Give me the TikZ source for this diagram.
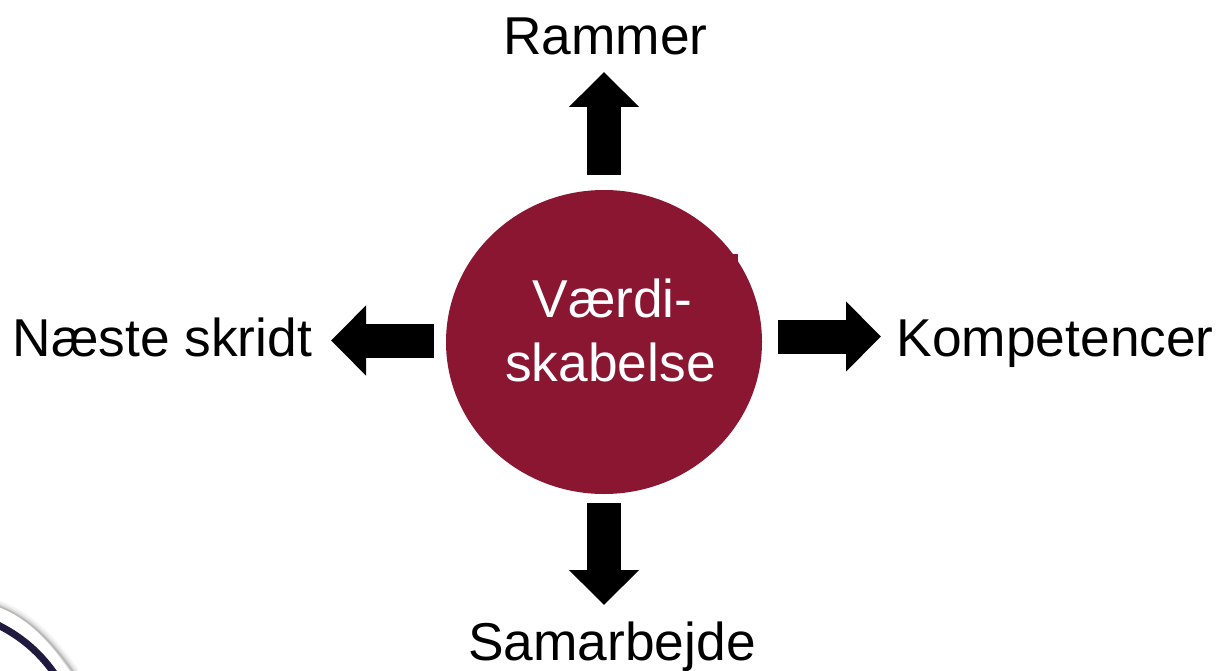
\documentclass[tikz,border=0pt]{standalone}
\usepackage{fontspec}
\setmainfont{Liberation Sans}
\usetikzlibrary{arrows.meta,shapes.geometric}
\definecolor{wine}{HTML}{8A1632}
\definecolor{navy}{HTML}{1E1A40}
\tikzset{
  label text/.style={inner sep=0pt,anchor=base,font=\fontsize{53.3}{60}\selectfont,text=black},
  centre text/.style={inner sep=0pt,anchor=base,font=\fontsize{53.3}{60}\selectfont,text=white},
  block arrow/.style={draw=black,line width=34pt,line cap=butt,-{Triangle[length=35pt,width=68pt,sep=0pt]}},
}
\begin{document}
\begin{tikzpicture}[x=1pt,y=-1pt]
\useasboundingbox (0,0) rectangle (1220,671);
\fill[white] (0,0) rectangle (1220,671);
% corner decoration
\begin{scope}
\clip (0,0) rectangle (1220,671);
\foreach \w/\o in {12/0.03,9/0.04,6/0.06,3/0.08,1.5/0.10}{
  \draw[black,opacity=\o,line width=\w pt] (-2,606) .. controls (30,618) and (52,642) .. (74,673);
}
\fill[white] (-2,607) .. controls (28,618) and (50,642) .. (71,673) -- (-2,673) -- cycle;
\draw[navy,line width=7pt] (-2,625) .. controls (18,635) and (38,650) .. (54,673);
\end{scope}
% centre
\node[ellipse,fill=wine,draw=none,minimum width=316pt,minimum height=304pt,inner sep=0pt] (c) at (604,342) {};
\fill[wine] (733,254) rectangle (738,264);
\node[centre text] (t1) at (612.5,317) {Værdi-};
\node[centre text] (t2) at (610.5,381) {skabelse};
% labels
\node[label text] (r) at (605.5,55) {Rammer};
\node[label text] (n) at (162.5,356) {Næste skridt};
\node[label text,anchor=base west] (k) at (896.5,356) {Kompetencer};
\node[label text] (s) at (612,660) {Samarbejde};
% arrows
\coordinate (ua) at (604,175); \coordinate (ub) at (604,72);
\coordinate (da) at (604,503); \coordinate (db) at (604,605);
\coordinate (la) at (434,340.5); \coordinate (lb) at (331,340.5);
\coordinate (ra) at (778,336.5); \coordinate (rb) at (881,336.5);
\draw[block arrow] (ua) -- (ub);
\draw[block arrow] (da) -- (db);
\draw[block arrow] (la) -- (lb);
\draw[block arrow] (ra) -- (rb);
\end{tikzpicture}
\end{document}
